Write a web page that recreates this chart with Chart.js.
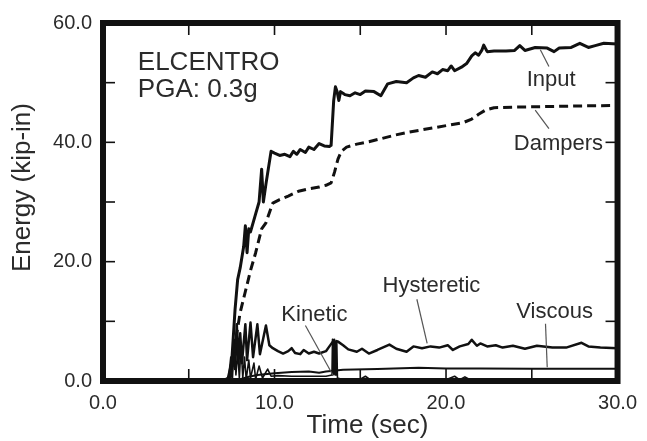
<!DOCTYPE html>
<html><head><meta charset="utf-8">
<script src="https://cdn.jsdelivr.net/npm/chart.js@4.4.1/dist/chart.umd.min.js"></script>
<style>html,body{margin:0;padding:0;background:#fff;} #wrap{width:647px;height:441px;position:relative;}</style>
</head><body><div id="wrap"><canvas id="c"></canvas></div>
<script>
// ---- data (time in sec, energy in kip-in) ----
const inputTime   = [0,7.0,7.3,7.5,7.7,7.85,8.0,8.2,8.3,8.4,8.5,8.6,8.9,9.1,9.25,9.35,9.5,9.8,10.0,10.3,10.6,10.9,11.1,11.3,11.5,11.8,12.0,12.3,12.6,12.9,13.2,13.3,13.45,13.55,13.65,13.75,13.85,14.1,14.4,14.7,15.0,15.3,15.8,16.2,16.6,17.1,17.7,18.1,18.4,18.8,19.2,19.5,19.8,20.1,20.3,20.5,20.9,21.2,21.5,21.7,21.9,22.1,22.2,22.4,22.8,23.5,24.0,24.3,24.6,25.2,25.9,26.3,26.6,27.3,27.8,28.3,28.7,29.2,30];
const inputEnergy = [0,0,0.5,3,12,17,19,22.5,26,21.5,25.5,25,28,30,35.5,30,33,38.5,38.2,37.8,38.0,37.6,38.5,38.0,38.8,38.3,39.2,38.8,39.8,39.4,39.3,39.5,47,49.3,48.5,47,48.5,48,47.8,48.3,48,48.6,48.5,47.8,49.8,50.2,50,50.8,51.2,50.9,51.8,51.5,52.2,52,52.8,52,52.6,53.2,54.5,55,54.6,55.5,56.3,55.2,55.3,55.3,55.4,56.2,55.4,55.9,55.8,55.2,55.8,55.9,56.6,55.9,56.2,56.6,56.5];

const dampersTime   = [0,7.2,7.4,7.6,7.8,8.0,8.3,8.6,8.9,9.25,9.5,9.7,9.9,10.3,10.8,11.4,12.0,12.6,13.0,13.3,13.5,13.7,13.9,14.2,14.8,15.5,16.2,17.0,17.8,18.6,19.4,20.2,21.0,21.5,21.9,22.3,22.8,24.0,26.0,28.0,30];
const dampersEnergy = [0,0,0.5,3,8,11.5,15,18.5,21.5,25.5,26.5,28.2,29.8,30.4,31,31.8,32.2,32.5,32.8,33.2,35,37.2,38.5,39.2,39.7,40.1,40.6,41.2,41.7,42.1,42.5,42.9,43.3,43.9,44.7,45.4,45.8,45.9,46.0,46.1,46.2];

const hystTime   = [0,7.3,7.5,7.6,7.7,7.8,7.9,8.0,8.1,8.3,8.4,8.6,8.75,9.0,9.15,9.5,9.7,9.9,10.2,10.5,10.8,11.0,11.2,11.5,11.7,12.0,12.3,12.6,13.0,13.2,13.4,13.7,14.0,14.3,14.8,15.1,15.5,16.0,16.7,17.1,17.7,18.1,18.6,19.1,19.6,20.1,20.4,20.8,21.3,21.5,21.8,22.0,22.4,22.9,23.3,23.9,24.6,25.3,26.2,27.0,27.9,28.3,29.0,30];
const hystEnergy = [0,0,1,6,2,9.5,3,8,3,9.5,3.5,9.8,4,9.5,4.5,9.3,6,5.5,5,4.6,5,5.5,4.7,4.5,5.2,4.6,4.9,4.6,5.0,5.8,6.6,6.6,6.0,5.3,4.9,5.4,4.6,5.2,6.1,5.4,4.9,5.8,5.5,5.8,5.6,6.0,5.2,5.8,6.2,6.9,5.9,6.3,5.8,6.0,5.6,5.9,5.4,5.9,5.6,5.6,6.4,5.8,5.6,5.5];

const viscTime   = [0,7.5,8.0,8.5,9.0,10.0,11.0,12.0,12.6,13.0,14.0,16.0,18.4,20.0,22.0,25.0,30];
const viscEnergy = [0,0,0.3,0.7,1.0,1.3,1.5,1.6,1.4,1.6,1.9,2.0,2.2,2.1,2.1,2.05,2.05];

const kinTime   = [0,7.3,7.45,7.55,7.65,7.75,7.85,7.95,8.05,8.15,8.25,8.35,8.5,8.6,8.8,8.9,9.1,9.3,9.6,9.8,10.2,11,12,13,13.35,13.38,13.41,13.44,13.47,13.5,13.53,13.56,13.6,13.63,13.67,14,15,15.3,15.6,17,20,20.5,20.8,21.1,21.4,24,30];
const kinEnergy = [0,0,4,0.5,7,1,5,0.5,6,0.5,4,0.3,3.5,0.5,3,0.3,2.5,0.5,2,0.8,0.9,0.8,0.8,0.8,1,7,1,6.8,1.2,7,1,6.5,1,6.8,0.5,0.2,0.3,0.8,0.2,0.2,0.2,0.8,0.2,0.7,0.2,0.1,0.1];

const xTickLabels = [0,10,20,30];
const yTickLabels = [0,20,40,60];
const xMinorTicks = [5,10,15,20,25];
const yMinorTicks = [10,20,30,40,50];

const FONT = "'Liberation Sans', Arial, Helvetica, sans-serif";
const TEXT = '#2b2b2b';
const pts = (t, e) => t.map((v, i) => ({x: v, y: e[i]}));

const annotations = {
  texts: [
    {text:'ELCENTRO', t:2.03, e:52.2, size:26},
    {text:'PGA: 0.3g', t:2.03, e:47.6, size:26},
    {text:'Input', t:24.7, e:49.4, size:22},
    {text:'Dampers', t:23.95, e:38.7, size:22},
    {text:'Hysteretic', t:16.3, e:15.0, size:22},
    {text:'Viscous', t:24.1, e:10.6, size:22},
    {text:'Kinetic', t:10.4, e:10.1, size:22}
  ],
  leaders: [
    [25.5,55.5,26.0,52.7],
    [25.2,45.4,26.0,42.3],
    [18.3,13.7,18.9,6.3],
    [25.8,9.6,25.9,2.3],
    [11.8,9.3,13.4,1.0]
  ]
};

const framePlugin = {
  id: 'framePlugin',
  afterDatasetsDraw(chart) {
    const {ctx, chartArea: a, scales: {x, y}} = chart;
    ctx.save();
    ctx.strokeStyle = '#555'; ctx.lineWidth = 1.2;
    for (const l of annotations.leaders) {
      ctx.beginPath();
      ctx.moveTo(x.getPixelForValue(l[0]), y.getPixelForValue(l[1]));
      ctx.lineTo(x.getPixelForValue(l[2]), y.getPixelForValue(l[3]));
      ctx.stroke();
    }
    ctx.fillStyle = TEXT; ctx.textAlign = 'left'; ctx.textBaseline = 'alphabetic';
    for (const tx of annotations.texts) {
      ctx.font = tx.size + 'px ' + FONT;
      ctx.fillText(tx.text, x.getPixelForValue(tx.t), y.getPixelForValue(tx.e));
    }
    ctx.strokeStyle = '#111'; ctx.lineWidth = 1.6;
    const L = 12;
    for (const v of xMinorTicks) {
      const px = x.getPixelForValue(v);
      ctx.beginPath(); ctx.moveTo(px, a.bottom); ctx.lineTo(px, a.bottom - L); ctx.stroke();
      ctx.beginPath(); ctx.moveTo(px, a.top); ctx.lineTo(px, a.top + L); ctx.stroke();
    }
    for (const v of yMinorTicks) {
      const py = y.getPixelForValue(v);
      ctx.beginPath(); ctx.moveTo(a.left, py); ctx.lineTo(a.left + L, py); ctx.stroke();
      ctx.beginPath(); ctx.moveTo(a.right, py); ctx.lineTo(a.right - L, py); ctx.stroke();
    }
    ctx.lineWidth = 6; ctx.lineJoin = 'miter';
    ctx.strokeRect(a.left, a.top, a.right - a.left, a.bottom - a.top);
    ctx.restore();
  }
};

const common = {pointRadius: 0, tension: 0, fill: false, borderColor: '#111', borderJoinStyle: 'round', borderCapStyle: 'butt'};

new Chart(document.getElementById('c'), {
  type: 'line',
  data: {
    datasets: [
      Object.assign({label: 'Input', data: pts(inputTime, inputEnergy), borderWidth: 3}, common),
      Object.assign({label: 'Dampers', data: pts(dampersTime, dampersEnergy), borderWidth: 3, borderDash: [9, 5]}, common),
      Object.assign({label: 'Hysteretic', data: pts(hystTime, hystEnergy), borderWidth: 2.5}, common),
      Object.assign({label: 'Viscous', data: pts(viscTime, viscEnergy), borderWidth: 2}, common),
      Object.assign({label: 'Kinetic', data: pts(kinTime, kinEnergy), borderWidth: 1.6}, common)
    ]
  },
  options: {
    responsive: true, maintainAspectRatio: false, animation: false,
    layout: {padding: {top: 18, right: 28, left: 0, bottom: 0}},
    plugins: {legend: {display: false}, tooltip: {enabled: false}},
    scales: {
      x: {
        type: 'linear', min: 0, max: 30,
        afterBuildTicks: s => { s.ticks = xTickLabels.map(v => ({value: v})); },
        afterFit: s => { s.height = 60; },
        ticks: {callback: v => Number(v).toFixed(1), font: {size: 20, family: FONT}, color: TEXT, padding: 10, maxRotation: 0},
        grid: {display: false, drawTicks: false},
        border: {display: false},
        title: {display: true, text: '  Time (sec)', font: {size: 26, family: FONT}, color: TEXT, padding: {top: 0, bottom: 0}}
      },
      y: {
        type: 'linear', min: 0, max: 60,
        afterBuildTicks: s => { s.ticks = yTickLabels.map(v => ({value: v})); },
        afterFit: s => { s.width = 103; },
        ticks: {callback: v => Number(v).toFixed(1), font: {size: 20, family: FONT}, color: TEXT, padding: 11},
        grid: {display: false, drawTicks: false},
        border: {display: false},
        title: {display: true, text: '    Energy (kip-in)', font: {size: 26, family: FONT}, color: TEXT, padding: {top: 7, bottom: 0}}
      }
    }
  },
  plugins: [framePlugin]
});
</script>
</body></html>
